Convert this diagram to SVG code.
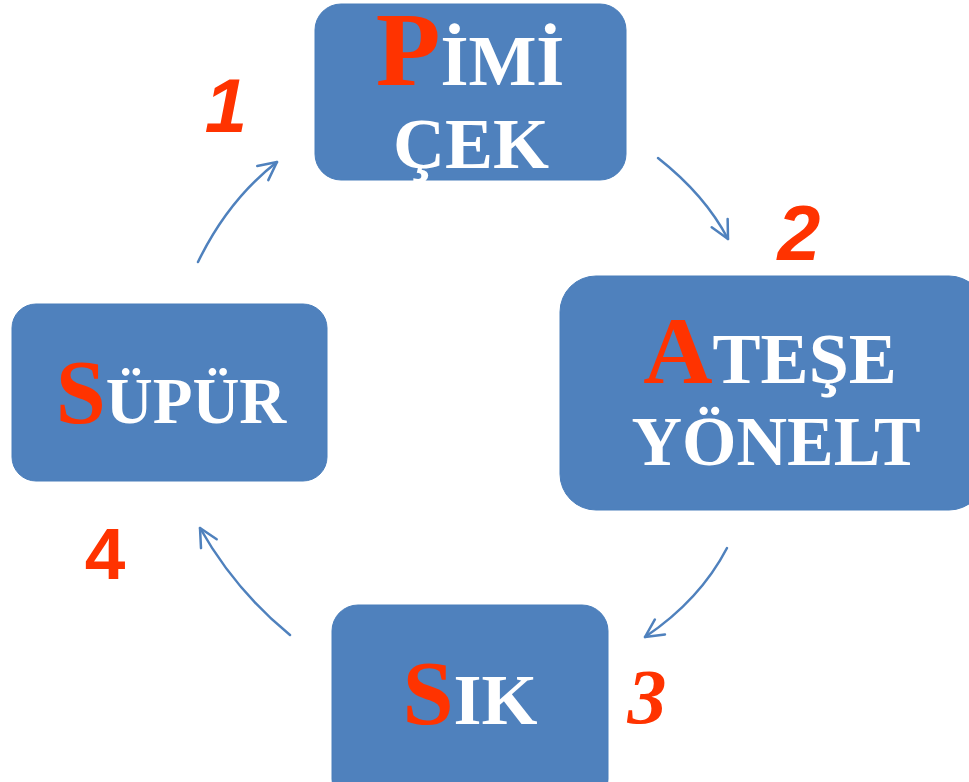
<svg xmlns="http://www.w3.org/2000/svg" width="969" height="782" viewBox="0 0 969 782">
<style>
.box{fill:#4F81BD;stroke:#4A7EBB;stroke-width:1}
.t{font-family:"Liberation Serif","Times New Roman",serif;font-weight:bold;fill:#FFFFFF;text-anchor:middle}
.r{fill:#FF3300}
.num{font-family:"Liberation Sans",Arial,sans-serif;font-weight:bold;fill:#FF3300;text-anchor:middle}
.arr{fill:none;stroke:#4F81BD;stroke-width:2.5;stroke-linecap:round}
</style>
<defs>
<marker id="ah" markerUnits="userSpaceOnUse" viewBox="-24 -14 28 28" refX="0" refY="0" markerWidth="28" markerHeight="28" orient="auto" overflow="visible">
<path d="M-18,-9 L0,0 L-18,9" fill="none" stroke="#4F81BD" stroke-width="2.5" stroke-linecap="round" stroke-linejoin="round"/>
</marker>
</defs>
<rect width="969" height="782" fill="#FFFFFF"/>
<g id="connectors">
<path class="arr" d="M198,262 Q228,200 277,162" marker-end="url(#ah)"/>
<path class="arr" d="M658,158 Q705,195 728,239" marker-end="url(#ah)"/>
<path class="arr" d="M727,548 Q700,600 645,637" marker-end="url(#ah)"/>
<path class="arr" d="M290,635 Q235,590 200,528" marker-end="url(#ah)"/>
</g>
<g id="node1">
<rect class="box" x="315" y="4" width="311" height="176" rx="26"/>
<text class="t" x="470" y="85" font-size="72"><tspan class="r" font-size="106">P</tspan>İMİ</text>
<text class="t" x="471" y="168" font-size="72">ÇEK</text>
</g>
<g id="node2">
<rect class="box" x="560" y="276" width="425" height="234" rx="36"/>
<text class="t" x="770" y="383" font-size="72"><tspan class="r" font-size="96">A</tspan>TEŞE</text>
<text class="t" x="776" y="465" font-size="70">YÖNELT</text>
</g>
<g id="node3">
<rect class="box" x="12" y="304" width="315" height="177" rx="24"/>
<text class="t" x="171" y="423" font-size="65"><tspan class="r" font-size="90">S</tspan>ÜPÜR</text>
</g>
<g id="node4">
<rect class="box" x="332" y="605" width="276" height="200" rx="26"/>
<text class="t" x="470" y="724" font-size="72"><tspan class="r" font-size="92">S</tspan>IK</text>
</g>
<g id="labels">
<text class="num" x="226" y="132" font-size="76" font-style="italic">1</text>
<text class="num" x="799" y="260" font-size="77" font-style="italic">2</text>
<text x="647" y="723" font-size="78" font-weight="bold" font-style="italic" font-family="Liberation Serif,'Times New Roman',serif" fill="#FF3300" text-anchor="middle">3</text>
<text class="num" x="105" y="579" font-size="73">4</text>
</g>
</svg>
